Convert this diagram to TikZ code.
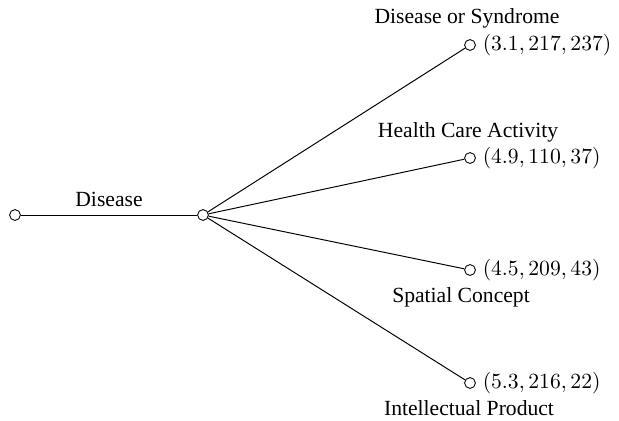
\documentclass[tikz,border=0pt]{standalone}
\usepackage{fontspec}
\setmainfont{Liberation Serif}
\begin{document}
\begin{tikzpicture}[x=0.4625pt,y=-0.4625pt,
  pt/.style={circle,draw,fill=white,inner sep=0pt,minimum size=5pt},
  lab/.style={inner sep=0pt,font=\normalsize},
  edge/.style={draw,line width=0.45pt}]
\useasboundingbox (0,0) rectangle (619,420);
\node[pt] (L) at (15,215) {};
\node[pt] (C) at (203,215) {};
\node[pt] (A) at (470,45) {};
\node[pt] (B) at (470,158) {};
\node[pt] (S) at (470,270) {};
\node[pt] (I) at (470,383) {};
\draw[edge] (L) -- (C);
\draw[edge] (C) -- (A);
\draw[edge] (C) -- (B);
\draw[edge] (C) -- (S);
\draw[edge] (C) -- (I);
\node[lab] (dl) at (109,199) {Disease};
\node[lab,anchor=west] (am) at ([xshift=3pt]A.east) {$(3.1, 217, 237)$};
\node[lab,anchor=west] (bm) at ([xshift=3pt]B.east) {$(4.9, 110, 37)$};
\node[lab,anchor=west] (sm) at ([xshift=3pt]S.east) {$(4.5, 209, 43)$};
\node[lab,anchor=west] (im) at ([xshift=3pt]I.east) {$(5.3, 216, 22)$};
\node[lab] (at) at (467,18) {Disease or Syndrome};
\node[lab] (bt) at (468,132) {Health Care Activity};
\node[lab] (st) at (461,297) {Spatial Concept};
\node[lab] (it) at (469,408) {Intellectual Product};
\end{tikzpicture}
\end{document}
